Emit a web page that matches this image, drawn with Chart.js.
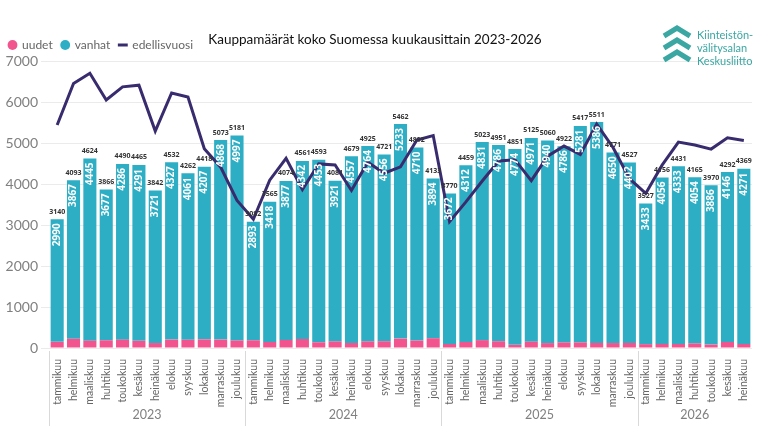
<!DOCTYPE html>
<html>
<head>
<meta charset="utf-8">
<script src="https://cdn.jsdelivr.net/npm/chart.js@4.4.1/dist/chart.umd.min.js"></script>
<style>
  body { margin: 0; background: #fff; font-family: Lato, sans-serif; }
  #wrap { position: relative; width: 768px; height: 431px; }
  #title { position: absolute; left: 4px; width: 742px; top: 31px; text-align: center; font-size: 13.5px; color: #111; }
  #logo { position: absolute; left: 660px; top: 24px; }
  #logo .txt { position: absolute; left: 37px; top: 4px; font-size: 11px; line-height: 13px; color: #3aa7a3; white-space: nowrap; }
</style>
</head>
<body>
<div id="wrap">
  <canvas id="chart" width="768" height="431"></canvas>
  <div id="title">Kauppamäärät koko Suomessa kuukausittain 2023-2026</div>
  <div id="logo">
    <svg width="34" height="40" viewBox="0 0 34 40">
      <g fill="none" stroke="#3aa7a3" stroke-width="5" stroke-linejoin="miter">
        <polyline points="4,12 17,4 30,12"/>
        <polyline points="4,24 17,16 30,24"/>
        <polyline points="4,36 17,28 30,36"/>
      </g>
    </svg>
    <div class="txt">Kiinteistön-<br>välitysalan<br>Keskusliitto</div>
  </div>
</div>
<script>
// Kuukaudet ja vuodet
const months = ["tammikuu", "helmikuu", "maaliskuu", "huhtikuu", "toukokuu", "kesäkuu",
  "heinäkuu", "elokuu", "syyskuu", "lokakuu", "marraskuu", "joulukuu"];
const years = ["2023", "2024", "2025", "2026"];
const monthsPerYear = [12, 12, 12, 7];

// Uudet asunnot
const uudet = [
  150, 226, 179, 189, 204, 174, 121, 205, 201, 211, 205, 184,
  189, 147, 197, 219, 140, 160, 122, 161, 165, 229, 182, 239,
  98, 147, 192, 165, 77, 154, 120, 136, 136, 125, 121, 125,
  94, 100, 98, 111, 84, 146, 98
];
// Vanhat asunnot
const vanhat = [
  2990, 3867, 4445, 3677, 4286, 4291, 3721, 4327, 4061, 4207, 4868, 4997,
  2893, 3418, 3877, 4342, 4453, 3921, 4557, 4764, 4556, 5233, 4710, 3894,
  3672, 4312, 4831, 4786, 4774, 4971, 4940, 4786, 5281, 5386, 4650, 4402,
  3433, 4056, 4333, 4054, 3886, 4146, 4271
];
// Edellisen vuoden kauppamäärä
const edellisvuosi = [
  5440, 6450, 6700, 6050, 6370, 6410, 5290, 6220, 6120, 4860, 4410, 3600,
  3140, 4093, 4624, 3866, 4490, 4465, 3842, 4532, 4262, 4418, 5073, 5181,
  3082, 3565, 4074, 4561, 4593, 4081, 4679, 4925, 4721, 5462, 4892, 4133,
  3770, 4459, 5023, 4951, 4851, 5125, 5060
];
const yTicks = [0, 1000, 2000, 3000, 4000, 5000, 6000, 7000];

const labels = [];
monthsPerYear.forEach(n => { for (let i = 0; i < n; i++) labels.push(months[i]); });

// Arvot pylväiden päälle ja sisään
const valueLabels = {
  id: "valueLabels",
  afterDatasetsDraw(chart) {
    const ctx = chart.ctx;
    const metaV = chart.getDatasetMeta(1);
    ctx.save();
    metaV.data.forEach((bar, i) => {
      const total = uudet[i] + vanhat[i];
      ctx.fillStyle = "#333";
      ctx.font = "bold 7px 'Open Sans'";
      ctx.textAlign = "center";
      ctx.textBaseline = "bottom";
      ctx.fillText(total, bar.x, bar.y - 4);

      ctx.save();
      ctx.translate(bar.x, bar.y + 4);
      ctx.rotate(-Math.PI / 2);
      ctx.fillStyle = "#fff";
      ctx.font = "bold 10px 'Open Sans'";
      ctx.textAlign = "right";
      ctx.textBaseline = "middle";
      ctx.fillText(vanhat[i], 0, 0);
      ctx.restore();
    });
    ctx.restore();
  }
};

// Vuosirivi x-akselin alle
const yearAxis = {
  id: "yearAxis",
  afterDraw(chart) {
    const ctx = chart.ctx;
    const x = chart.scales.x;
    const area = chart.chartArea;
    const half = (x.getPixelForValue(1) - x.getPixelForValue(0)) / 2;
    ctx.save();
    ctx.strokeStyle = "#d9d9d9";
    ctx.lineWidth = 1;
    ctx.fillStyle = "#808080";
    ctx.font = "12.5px Lato";
    ctx.textAlign = "center";
    ctx.textBaseline = "middle";
    let start = 0;
    monthsPerYear.forEach((n, k) => {
      const left = x.getPixelForValue(start) - half;
      const right = x.getPixelForValue(start + n - 1) + half;
      ctx.beginPath();
      ctx.moveTo(Math.round(left) + 0.5, area.bottom + 3);
      ctx.lineTo(Math.round(left) + 0.5, 426);
      ctx.stroke();
      ctx.fillText(years[k], (left + right) / 2, 415);
      start += n;
    });
    ctx.restore();
  }
};

new Chart(document.getElementById("chart"), {
  data: {
    labels: labels,
    datasets: [
      {
        type: "bar",
        label: "uudet",
        data: uudet,
        backgroundColor: "#f2548d",
        stack: "s",
        order: 1,
        barPercentage: 0.8,
        categoryPercentage: 1
      },
      {
        type: "bar",
        label: "vanhat",
        data: vanhat,
        backgroundColor: "#2eaec4",
        stack: "s",
        order: 2,
        barPercentage: 0.8,
        categoryPercentage: 1
      },
      {
        type: "line",
        label: "edellisvuosi",
        data: edellisvuosi,
        borderColor: "#392c6e",
        backgroundColor: "#392c6e",
        borderWidth: 3,
        pointRadius: 0,
        tension: 0,
        order: 0
      }
    ]
  },
  options: {
    responsive: false,
    animation: false,
    layout: { padding: { top: 30, left: 0, right: 16, bottom: 23 } },
    plugins: {
      legend: {
        position: "top",
        align: "start",
        labels: {
          usePointStyle: true,
          boxWidth: 7,
          boxHeight: 7,
          padding: 9,
          color: "#666",
          font: { family: "Lato", size: 12 },
          generateLabels(chart) {
            return chart.data.datasets.map((ds, i) => ({
              text: ds.label,
              fillStyle: ds.backgroundColor,
              strokeStyle: ds.backgroundColor,
              lineWidth: ds.type === "line" ? 3 : 0,
              pointStyle: ds.type === "line" ? "line" : "circle",
              fontColor: "#666",
              datasetIndex: i
            }));
          }
        }
      },
      tooltip: { enabled: false }
    },
    scales: {
      x: {
        stacked: true,
        grid: { display: false },
        border: { display: false },
        afterFit(axis) { axis.height = 60; },
        ticks: {
          color: "#666",
          font: { family: "Lato", size: 10.5 },
          maxRotation: 90,
          minRotation: 90,
          autoSkip: false,
          padding: 3
        }
      },
      y: {
        stacked: true,
        min: 0,
        max: 7000,
        afterBuildTicks(axis) { axis.ticks = yTicks.map(v => ({ value: v })); },
        afterFit(axis) { axis.width = 49; },
        grid: { color: "#ebebeb" },
        border: { display: false },
        ticks: {
          color: "#808080",
          font: { family: "Lato", size: 14 },
          padding: 3,
          callback: v => String(v)
        }
      }
    }
  },
  plugins: [valueLabels, yearAxis]
});
</script>
</body>
</html>
